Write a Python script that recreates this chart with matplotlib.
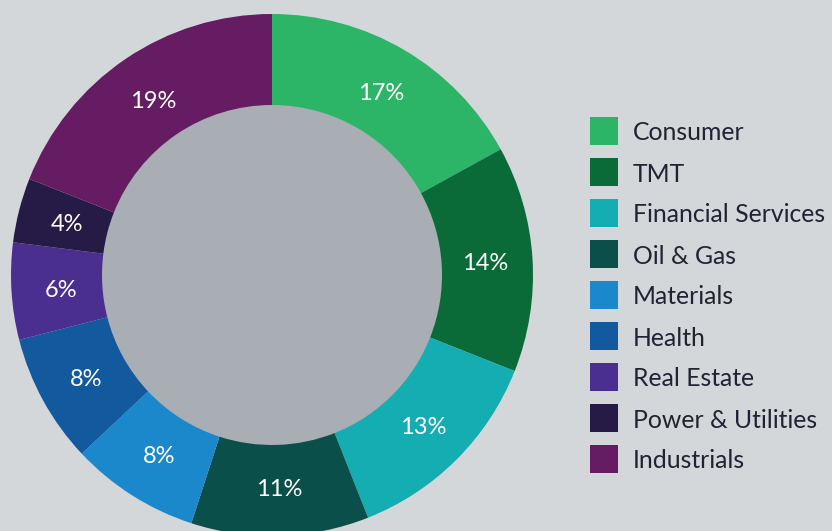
import matplotlib.pyplot as plt
from matplotlib.patches import Rectangle, Circle

categories = ["Consumer", "TMT", "Financial Services", "Oil & Gas", "Materials",
              "Health", "Real Estate", "Power & Utilities", "Industrials"]
shares = [17, 14, 13, 11, 8, 8, 6, 4, 19]
colors = ["#2db567", "#0a6b38", "#14adb2", "#0b4f4a", "#1a88cb",
          "#12599e", "#4a2f91", "#261b47", "#661c62"]

W, H = 832, 531
bg = "#d3d7da"

fig = plt.figure(figsize=(W / 100, H / 100), dpi=100, facecolor=bg)
ax = fig.add_axes([0, 0, 1, 1])
ax.set_facecolor(bg)

cx, cy, R = 272, H - 275, 261
wedges, texts, autotexts = ax.pie(
    shares, colors=colors, startangle=90, counterclock=False,
    center=(cx, cy), radius=R, wedgeprops=dict(width=R - 170, linewidth=0),
    autopct="%d%%", pctdistance=0.815,
    textprops=dict(color="white", fontsize=17, family="Lato"))
for t in autotexts:
    x, y = t.get_position()
    t.set_position((x + 1, y - 2))
ax.add_patch(Circle((cx, cy), 170, color="#a8aeb4", zorder=0))

# legend drawn by hand
for i, (name, col) in enumerate(zip(categories, colors)):
    y = H - (131 + i * 41)
    ax.add_patch(Rectangle((590, y - 14), 28, 28, color=col, linewidth=0))
    ax.text(633, y - 2, name, va="center", ha="left", fontsize=17.8,
            family="Lato", color="#1f2333")

ax.set_xlim(0, W)
ax.set_ylim(0, H)
ax.set_aspect("equal")
ax.axis("off")

fig.savefig("out.png", dpi=100, facecolor=bg)
